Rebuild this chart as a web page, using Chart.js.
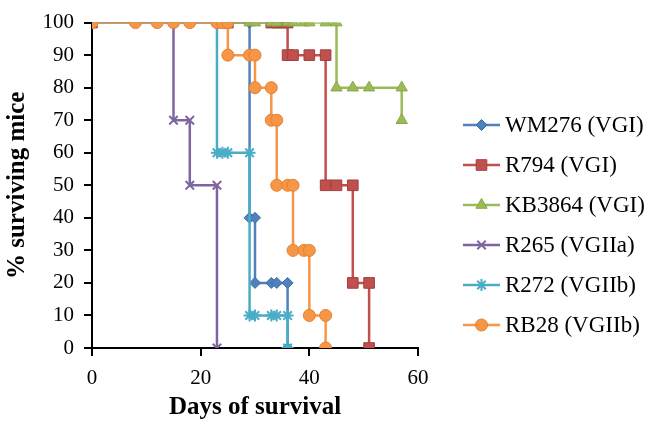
<!DOCTYPE html>
<html>
<head>
<meta charset="utf-8">
<script src="https://cdn.jsdelivr.net/npm/chart.js@4"></script>
<style>
html,body{margin:0;padding:0;background:#fff;}
#wrap{width:649px;height:424px;position:relative;}
</style>
</head>
<body>
<div id="wrap"><canvas id="c" width="649" height="424"></canvas></div>
<script>
// ---- data ----
const seriesNames = ['WM276 (VGI)','R794 (VGI)','KB3864 (VGI)','R265 (VGIIa)','R272 (VGIIb)','RB28 (VGIIb)'];

const wm276Days = [0, 29, 29, 30, 30, 33, 34, 36, 36];
const wm276Surv = [100, 100, 40, 40, 20, 20, 20, 20, 0];

const r794Days = [0, 24, 25, 33, 34, 35, 36, 36, 37, 40, 43, 43, 45, 48, 48, 51, 51];
const r794Surv = [100, 100, 100, 100, 100, 100, 100, 90, 90, 90, 90, 50, 50, 50, 20, 20, 0];

const kb3864Days = [0, 29, 30, 33, 34, 36, 37, 39, 40, 43, 45, 45, 48, 51, 57, 57];
const kb3864Surv = [100, 100, 100, 100, 100, 100, 100, 100, 100, 100, 100, 80, 80, 80, 80, 70];

const r265Days = [0, 15, 15, 18, 18, 23, 23];
const r265Surv = [100, 100, 70, 70, 50, 50, 0];

const r272Days = [0, 23, 23, 24, 25, 29, 29, 30, 33, 34, 36, 36];
const r272Surv = [100, 100, 60, 60, 60, 60, 10, 10, 10, 10, 10, 0];

const rb28Days = [0, 8, 12, 15, 18, 23, 24, 25, 25, 29, 30, 30, 33, 33, 34, 34, 36, 37, 37, 39, 40, 40, 43, 43];
const rb28Surv = [100, 100, 100, 100, 100, 100, 100, 100, 90, 90, 90, 80, 80, 70, 70, 50, 50, 50, 30, 30, 30, 10, 10, 0];

const xTicks = [0, 20, 40, 60];
const yTicks = [0, 10, 20, 30, 40, 50, 60, 70, 80, 90, 100];

// ---- styles ----
const colors = ['#4F81BD','#C0504D','#9BBB59','#8064A2','#4BACC6','#F79646'];
const borders = ['#3A6BA5','#A33F3C','#86A845','#6B5090','#3E98B0','#E0832F'];
const pStyles = ['rectRot','rect','triangle','crossRot','star','circle'];
const pRadius = [5.5, 7.5, 6.5, 6, 6, 6];

const allDays = [wm276Days, r794Days, kb3864Days, r265Days, r272Days, rb28Days];
const allSurv = [wm276Surv, r794Surv, kb3864Surv, r265Surv, r272Surv, rb28Surv];

const isOpen = (s) => s === 'crossRot' || s === 'star';

const datasets = seriesNames.map((name, i) => ({
  label: name,
  data: allDays[i].map((d, k) => ({x: d, y: allSurv[i][k]})),
  borderColor: colors[i],
  backgroundColor: colors[i],
  pointBorderColor: isOpen(pStyles[i]) ? colors[i] : borders[i],
  pointBackgroundColor: colors[i],
  pointStyle: pStyles[i],
  pointRadius: pRadius[i],
  pointBorderWidth: isOpen(pStyles[i]) ? 2 : 1,
  borderWidth: 2.5,
  tension: 0,
  fill: false,
  order: seriesNames.length - i
}));

const legendPlugin = {
  id: 'customLegend',
  afterDraw(chart) {
    const ctx = chart.ctx;
    const x0 = 463, x1 = 500, tx = 505, y0 = 125, dy = 40;
    ctx.save();
    ctx.font = '23px "Liberation Serif"';
    ctx.textBaseline = 'middle';
    seriesNames.forEach((name, i) => {
      const y = y0 + i * dy;
      ctx.strokeStyle = colors[i];
      ctx.lineWidth = 2.5;
      ctx.beginPath(); ctx.moveTo(x0, y); ctx.lineTo(x1, y); ctx.stroke();
      ctx.fillStyle = colors[i];
      ctx.strokeStyle = isOpen(pStyles[i]) ? colors[i] : borders[i];
      ctx.lineWidth = isOpen(pStyles[i]) ? 2 : 1;
      Chart.helpers.drawPoint(ctx, {pointStyle: pStyles[i], radius: pRadius[i], borderWidth: ctx.lineWidth, rotation: 0}, (x0 + x1) / 2, y);
      ctx.fillStyle = '#000';
      ctx.fillText(name, tx, y + 1);
    });
    ctx.restore();
  }
};

new Chart(document.getElementById('c'), {
  type: 'line',
  data: { datasets },
  options: {
    responsive: false,
    animation: false,
    devicePixelRatio: 1,
    layout: { padding: { left: 1, right: 231, top: 19, bottom: 0 } },
    plugins: { legend: { display: false }, tooltip: { enabled: false } },
    scales: {
      x: {
        type: 'linear',
        min: 0, max: 60,
        afterBuildTicks: (s) => { s.ticks = xTicks.map(v => ({value: v})); },
        afterFit: (s) => { s.height = 424 - 348; },
        border: { display: true, color: '#000', width: 2 },
        grid: { display: true, drawOnChartArea: false, drawTicks: true, tickLength: 8, color: '#000', lineWidth: 2 },
        ticks: { color: '#000', font: { family: 'Liberation Serif', size: 21 }, padding: 10, maxRotation: 0 },
        title: { display: true, text: 'Days of survival', color: '#000', font: { family: 'Liberation Serif', size: 25, weight: 'bold' }, padding: { top: 1, bottom: 1 } }
      },
      y: {
        min: 0, max: 100,
        afterBuildTicks: (s) => { s.ticks = yTicks.map(v => ({value: v})); },
        afterFit: (s) => { s.width = 92 - 1; },
        border: { display: true, color: '#000', width: 2 },
        grid: { display: true, drawOnChartArea: false, drawTicks: true, tickLength: 8, color: '#000', lineWidth: 2 },
        ticks: { color: '#000', font: { family: 'Liberation Serif', size: 21 }, padding: 10 },
        title: { display: true, text: '% surviving mice', color: '#000', font: { family: 'Liberation Serif', size: 25, weight: 'bold' }, padding: { top: 2, bottom: 2 } }
      }
    }
  },
  plugins: [legendPlugin]
});
</script>
</body>
</html>
